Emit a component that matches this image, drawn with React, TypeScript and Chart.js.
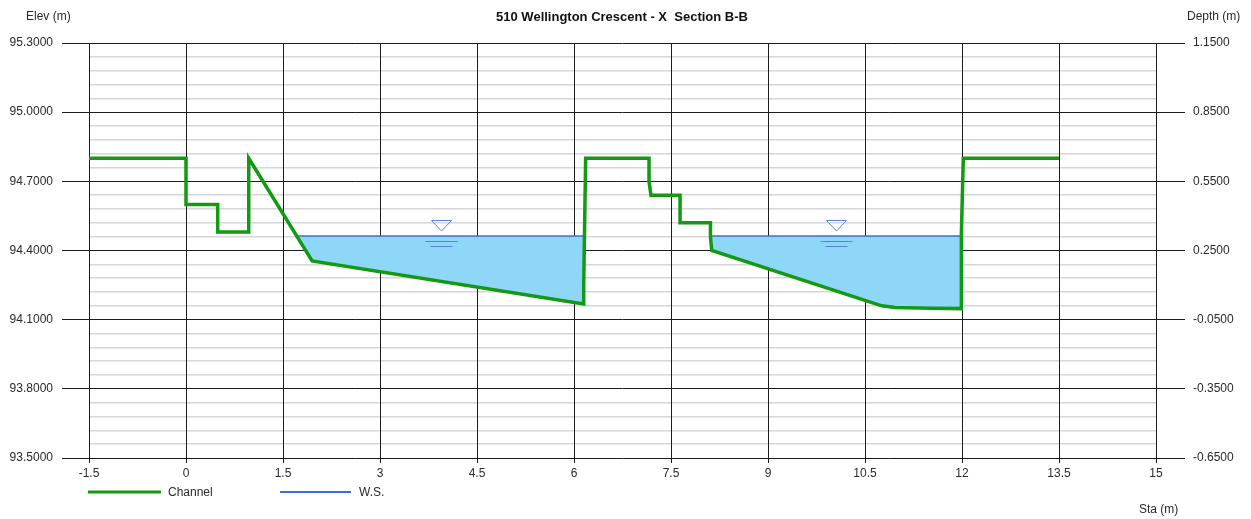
import React, { useEffect, useRef } from 'react';
import { Chart, registerables } from 'chart.js';

Chart.register(...registerables);

// Channel ground profile (station m, elevation m)
const stations = [-1.5, 0, 0, 0.49, 0.49, 0.96, 0.97, 1.95, 6.15, 6.15, 6.18, 7.16, 7.16, 7.19, 7.64, 7.64, 8.11, 8.11, 8.13, 10.76, 10.97, 11.53, 11.99, 11.99, 12.02, 13.5];
const elevations = [94.8, 94.8, 94.6, 94.6, 94.48, 94.48, 94.8, 94.355, 94.168, 94.245, 94.8, 94.8, 94.7, 94.64, 94.64, 94.52, 94.52, 94.46, 94.4, 94.16, 94.153, 94.15, 94.148, 94.47, 94.8, 94.8];

// Water surface
const wsElevation = 94.463;
const wsStarts = [1.72, 8.12];
const wsEnds = [6.16, 11.99];

// Axes
const xTicks = [-1.5, 0, 1.5, 3, 4.5, 6, 7.5, 9, 10.5, 12, 13.5, 15];
const elevMajorTicks = [93.5, 93.8, 94.1, 94.4, 94.7, 95.0, 95.3];
const depthTicks = [-0.65, -0.35, -0.05, 0.25, 0.55, 0.85, 1.15];
const minorDivisions = 5;

const titleText = '510 Wellington Crescent - X  Section B-B';
const leftAxisTitle = 'Elev (m)';
const rightAxisTitle = 'Depth (m)';
const bottomAxisTitle = 'Sta (m)';
const channelLabel = 'Channel';
const wsLabel = 'W.S.';

const GREEN = '#129a12';
const BLUE = '#3d6fd6';
const WATER = '#8fd7f8';
const MAJOR = '#1c1c1c';
const MINOR = '#d6d6d6';
const TEXT = '#2a2a2a';
const FONT = '"Liberation Sans", Arial, sans-serif';

function buildElevTicks(): number[] {
  const out: number[] = [];
  for (let i = 0; i < elevMajorTicks.length; i++) {
    out.push(elevMajorTicks[i]);
    if (i < elevMajorTicks.length - 1) {
      const a = elevMajorTicks[i];
      const b = elevMajorTicks[i + 1];
      for (let k = 1; k < minorDivisions; k++) out.push(a + ((b - a) * k) / minorDivisions);
    }
  }
  return out;
}

const channelPoints = stations.map((x, i) => ({ x, y: elevations[i] }));

function wsPoints() {
  const pts: { x: number; y: number | null }[] = [];
  wsStarts.forEach((s, i) => {
    pts.push({ x: s, y: wsElevation });
    pts.push({ x: wsEnds[i], y: wsElevation });
    if (i < wsStarts.length - 1) pts.push({ x: (wsEnds[i] + wsStarts[i + 1]) / 2, y: null });
  });
  return pts;
}

function waterPolygon(i: number) {
  const s = wsStarts[i];
  const e = wsEnds[i];
  const inner = channelPoints.filter((p) => p.x >= s && p.x <= e && p.y < wsElevation);
  return [{ x: s, y: wsElevation }, ...inner, { x: e, y: wsElevation }, { x: s, y: wsElevation }];
}

const overlayPlugin = {
  id: 'overlay',
  afterDraw(chart: any) {
    const ctx = chart.ctx as CanvasRenderingContext2D;
    const xs = chart.scales.x;
    const ys = chart.scales.y;
    ctx.save();
    // Title
    ctx.fillStyle = '#111';
    ctx.font = `bold 13px ${FONT}`;
    ctx.textAlign = 'center';
    ctx.textBaseline = 'middle';
    ctx.fillText(titleText, 622, 17);
    // Axis titles
    ctx.font = `12px ${FONT}`;
    ctx.fillStyle = TEXT;
    ctx.textAlign = 'left';
    ctx.fillText(leftAxisTitle, 26, 17);
    ctx.fillText(rightAxisTitle, 1187, 17);
    ctx.fillText(bottomAxisTitle, 1139, 510);
    // Legend
    ctx.lineCap = 'butt';
    ctx.strokeStyle = GREEN;
    ctx.lineWidth = 3;
    ctx.beginPath();
    ctx.moveTo(88, 492);
    ctx.lineTo(161, 492);
    ctx.stroke();
    ctx.fillText(channelLabel, 168, 493);
    ctx.strokeStyle = BLUE;
    ctx.lineWidth = 2;
    ctx.beginPath();
    ctx.moveTo(280, 492);
    ctx.lineTo(351, 492);
    ctx.stroke();
    ctx.fillText(wsLabel, 359, 493);
    // Water surface symbols
    ctx.strokeStyle = '#5a82d6';
    ctx.lineWidth = 1;
    wsStarts.forEach((s, i) => {
      const cx = Math.round(xs.getPixelForValue((s + wsEnds[i]) / 2)) + 0.5;
      const cy = Math.round(ys.getPixelForValue(wsElevation));
      ctx.beginPath();
      ctx.moveTo(cx - 10, cy - 15.5);
      ctx.lineTo(cx + 10, cy - 15.5);
      ctx.lineTo(cx, cy - 5);
      ctx.closePath();
      ctx.stroke();
      ctx.beginPath();
      ctx.moveTo(cx - 16, cy + 5.5);
      ctx.lineTo(cx + 16, cy + 5.5);
      ctx.moveTo(cx - 11, cy + 10.5);
      ctx.lineTo(cx + 11, cy + 10.5);
      ctx.stroke();
    });
    ctx.restore();
  },
};

export default function App() {
  const ref = useRef<HTMLCanvasElement | null>(null);

  useEffect(() => {
    document.body.style.margin = '0';
    const canvas = ref.current;
    if (!canvas) return;
    const elevTicks = buildElevTicks();
    const chart = new Chart(canvas, {
      type: 'line',
      data: {
        datasets: [
          {
            label: channelLabel,
            data: channelPoints,
            borderColor: GREEN,
            borderWidth: 3.5,
            borderJoinStyle: 'miter',
            pointRadius: 0,
            tension: 0,
            fill: false,
            yAxisID: 'y',
          },
          {
            label: wsLabel,
            data: wsPoints(),
            borderColor: BLUE,
            borderWidth: 1.6,
            pointRadius: 0,
            tension: 0,
            spanGaps: false,
            fill: false,
            yAxisID: 'y',
          },
          ...wsStarts.map((_, i) => ({
            label: 'water' + i,
            data: waterPolygon(i),
            borderWidth: 0,
            borderColor: 'rgba(0,0,0,0)',
            backgroundColor: WATER,
            pointRadius: 0,
            tension: 0,
            fill: 'shape',
            yAxisID: 'y',
          })),
        ] as any,
      },
      options: {
        animation: false,
        responsive: false,
        devicePixelRatio: 1,
        parsing: false as any,
        layout: { padding: { top: 43, left: 0, right: 0, bottom: 0 } },
        plugins: {
          legend: { display: false },
          tooltip: { enabled: false },
          title: { display: false },
        },
        scales: {
          x: {
            type: 'linear',
            min: -1.5,
            max: 15,
            afterBuildTicks: (s: any) => {
              s.ticks = xTicks.map((v) => ({ value: v }));
            },
            afterFit: (s: any) => {
              s.height = 61;
            },
            border: { display: false },
            grid: { color: MAJOR, lineWidth: 1, tickLength: 5, tickColor: MAJOR, z: 0 },
            ticks: {
              autoSkip: false,
              maxRotation: 0,
              padding: 3,
              color: TEXT,
              font: { family: FONT, size: 12 },
              callback: (v: any) => String(Math.round(Number(v) * 10) / 10),
            },
          },
          y: {
            type: 'linear',
            position: 'left',
            min: 93.5,
            max: 95.3,
            afterBuildTicks: (s: any) => {
              s.ticks = elevTicks.map((v) => ({ value: v }));
            },
            afterFit: (s: any) => {
              s.width = 89;
            },
            border: { display: false },
            grid: {
              z: -1,
              color: (c: any) => (c.index % minorDivisions === 0 ? MAJOR : MINOR),
              lineWidth: (c: any) => (c.index % minorDivisions === 0 ? 1 : 1.5),
              tickColor: (c: any) => (c.index % minorDivisions === 0 ? MAJOR : 'rgba(0,0,0,0)'),
              tickLength: 27,
            },
            ticks: {
              autoSkip: false,
              padding: 9,
              color: TEXT,
              font: { family: FONT, size: 12 },
              callback: (v: any, i: number) => (i % minorDivisions === 0 ? Number(v).toFixed(4) : ''),
            },
          },
          y2: {
            type: 'linear',
            position: 'right',
            min: -0.65,
            max: 1.15,
            afterBuildTicks: (s: any) => {
              s.ticks = depthTicks.map((v) => ({ value: v }));
            },
            afterFit: (s: any) => {
              s.width = 95;
            },
            border: { display: false },
            grid: { drawOnChartArea: false, tickLength: 29, tickColor: MAJOR, color: MAJOR },
            ticks: {
              autoSkip: false,
              padding: 8,
              color: TEXT,
              font: { family: FONT, size: 12 },
              callback: (v: any) => Number(v).toFixed(4),
            },
          },
        },
      } as any,
      plugins: [overlayPlugin],
    });
    return () => chart.destroy();
  }, []);

  return (
    <div style={{ width: 1251, height: 519, background: '#fff' }}>
      <canvas ref={ref} width={1251} height={519} style={{ display: 'block', width: 1251, height: 519 }} />
    </div>
  );
}
